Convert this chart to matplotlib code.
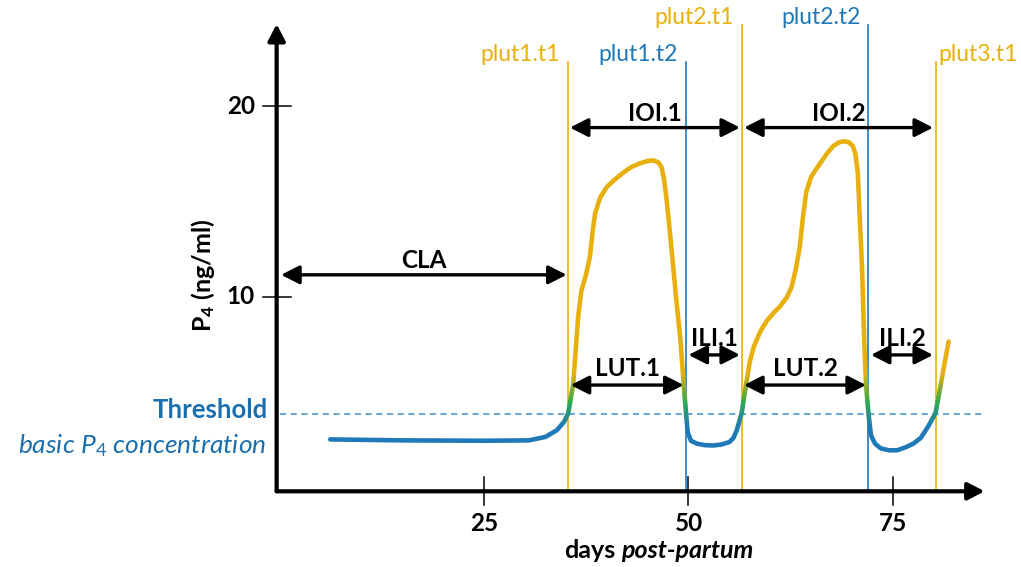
import numpy as np
import matplotlib
matplotlib.use("Agg")
import matplotlib.pyplot as plt
from matplotlib.patches import Rectangle
from matplotlib.colors import LinearSegmentedColormap

plt.rcParams['font.family'] = ['Lato', 'DejaVu Sans']
plt.rcParams['mathtext.fontset'] = 'custom'
plt.rcParams['mathtext.rm'] = 'Lato'
plt.rcParams['mathtext.it'] = 'Lato:italic'
plt.rcParams['mathtext.bf'] = 'Lato:bold'

# P4 profile (days post-partum, ng/ml)
days = [6.2, 15, 25, 30.5, 32.5, 33.9, 34.8, 35.3,
        35.9, 36.5, 36.9, 37.5, 37.95, 38.3, 38.6, 39.2, 40.0, 41.0, 42.0, 43.0,
        44.1, 45.0, 45.7, 46.3, 46.7, 47.0, 47.3, 47.7, 48.1, 48.5, 49.0, 49.4,
        49.7, 49.9, 50.3, 51.0, 52.0, 53.0, 54.0, 55.0, 55.5, 55.9, 56.5,
        57.0, 57.5, 58.0, 58.8, 59.6, 60.4, 61.2, 62.0, 62.6, 63.1, 63.6, 64.0,
        64.4, 65.0, 66.1, 67.0, 67.7, 68.4, 69.0, 69.6, 70.1, 70.4, 70.7, 70.9,
        71.2, 71.5, 71.7, 72.0, 72.3, 72.8, 73.5, 74.5, 75.5, 76.5, 77.5, 78.4,
        79.3, 80.2, 80.8, 81.3, 81.8]
p4 = [2.52, 2.47, 2.45, 2.47, 2.65, 3.0, 3.45, 3.9,
      5.4, 8.9, 10.3, 11.2, 12.1, 13.5, 14.4, 15.2, 15.75, 16.15, 16.5, 16.8,
      17.0, 17.12, 17.15, 17.05, 16.8, 16.2, 15.2, 13.5, 11.7, 9.9, 7.8, 5.5,
      3.9, 2.9, 2.45, 2.3, 2.22, 2.2, 2.25, 2.38, 2.6, 3.0, 3.9,
      5.3, 6.6, 7.4, 8.2, 8.75, 9.15, 9.5, 9.95, 10.5, 11.4, 12.6, 14.2,
      15.5, 16.3, 17.0, 17.55, 17.9, 18.1, 18.15, 18.1, 17.9, 17.5, 16.5, 14.5,
      11.7, 7.5, 5.4, 3.9, 2.75, 2.3, 2.05, 1.95, 1.95, 2.1, 2.3, 2.6,
      3.2, 3.9, 5.3, 6.5, 7.65]

threshold = 3.85

event_names = ['plut1.t1', 'plut1.t2', 'plut2.t1', 'plut2.t2', 'plut3.t1']
event_days = [35.3, 49.7, 56.5, 72.0, 80.2]
event_tops = [22.3, 22.3, 24.25, 24.25, 22.3]
event_kind = ['t1', 't2', 't1', 't2', 't1']

interval_names = ['CLA', 'IOI.1', 'IOI.2', 'LUT.1', 'ILI.1', 'LUT.2', 'ILI.2']
interval_start = [0.2, 35.5, 56.8, 35.6, 50.0, 56.8, 72.3]
interval_end = [35.1, 56.3, 79.9, 49.4, 56.3, 71.7, 79.9]
interval_level = [11.15, 18.87, 18.87, 5.37, 6.95, 5.37, 6.95]

xticks = [25, 50, 75]
yticks = [10, 20]

YELLOW = '#E8B00C'
BLUE = '#1F78B8'
GREEN = '#2DAA4E'
TXT_BLUE = '#1C6FAE'

fig = plt.figure(figsize=(10.21, 5.67), dpi=100)
ax = fig.add_axes([0, 0, 1, 1])
ax.set_xlim(-34.17, 90.65)
ax.set_ylim(-4.17, 25.56)
ax.axis('off')

# axes with arrows
ax.annotate('', xy=(86.2, -0.2), xytext=(-0.35, -0.2),
            arrowprops=dict(arrowstyle='-|>,head_length=0.5,head_width=0.26',
                            lw=3, color='black', shrinkA=0, shrinkB=0,
                            mutation_scale=20))
ax.annotate('', xy=(-0.35, 24.3), xytext=(-0.35, -0.2),
            arrowprops=dict(arrowstyle='-|>,head_length=0.5,head_width=0.26',
                            lw=3, color='black', shrinkA=0, shrinkB=0,
                            mutation_scale=20))

for t in xticks:
    ax.plot([t, t], [-0.93, 0.53], color='black', lw=1.1)
    ax.text(t, -1.9, str(t), ha='center', va='center', fontsize=17.5, fontweight='bold')
for t in yticks:
    ax.plot([-2.05, 1.35], [t, t], color='black', lw=1.1)
    ax.text(-3.0, t, str(t), ha='right', va='center', fontsize=17.5, fontweight='bold')

ax.text(-9.3, 11.1, r'$\mathbf{P_4}$ (ng/ml)', rotation=90, ha='center', va='center',
        fontsize=18, fontweight='bold')
ax.text(41.1, -3.3, 'days', ha='right', va='center', fontsize=18, fontweight='bold')
ax.text(41.8, -3.3, 'post-partum', ha='left', va='center', fontsize=18,
        fontweight='bold', style='italic')

# threshold
ax.plot([0, 86], [threshold, threshold], color='#3B8FD0', lw=1.1, ls=(0, (4, 3)))
ax.text(-1.4, 4.05, 'Threshold', ha='right', va='center', fontsize=18.5,
        fontweight='bold', color=TXT_BLUE)
ax.text(-1.6, 2.2, r'basic $P_4$ concentration', ha='right', va='center', fontsize=19,
        style='italic', color=TXT_BLUE)

# event lines
for name, d, top, kind in zip(event_names, event_days, event_tops, event_kind):
    c = YELLOW if kind == 't1' else BLUE
    ax.plot([d, d], [-0.2, top], color=c, lw=1.2, zorder=2)
    if name == 'plut3.t1':
        ax.text(d + 0.3, top + 0.4, name, ha='left', va='center', fontsize=16.5, color=c)
    else:
        ax.text(d - 1.0, top + 0.4, name, ha='right', va='center', fontsize=16.5, color=c)

# profile curve, coloured by concentration
cmap = LinearSegmentedColormap.from_list('p4', [(0, BLUE), (0.45, GREEN), (1, YELLOW)])
edges = np.concatenate([[-5], np.linspace(3.2, 6.0, 15), [30]])
for lo, hi in zip(edges[:-1], edges[1:]):
    mid = np.clip(((lo + hi) / 2 - 3.2) / 2.8, 0, 1)
    line, = ax.plot(days, p4, color=cmap(mid), lw=3.3, solid_capstyle='round',
                    solid_joinstyle='round', zorder=3)
    rect = Rectangle((-40, lo), 140, hi - lo, transform=ax.transData)
    line.set_clip_path(rect)

# interval arrows
for name, a, b, lev in zip(interval_names, interval_start, interval_end, interval_level):
    ax.annotate('', xy=(b, lev), xytext=(a, lev),
                arrowprops=dict(arrowstyle='<|-|>,head_length=0.55,head_width=0.28',
                                lw=2.4, color='black', shrinkA=0, shrinkB=0,
                                mutation_scale=20), zorder=4)
    off = 0.35 if name in ('CLA', 'IOI.1', 'IOI.2') else 0.45
    ax.text((a + b) / 2, lev + off, name, ha='center', va='baseline', fontsize=17.5,
            fontweight='bold', zorder=5)

fig.savefig('out.png', dpi=100)
